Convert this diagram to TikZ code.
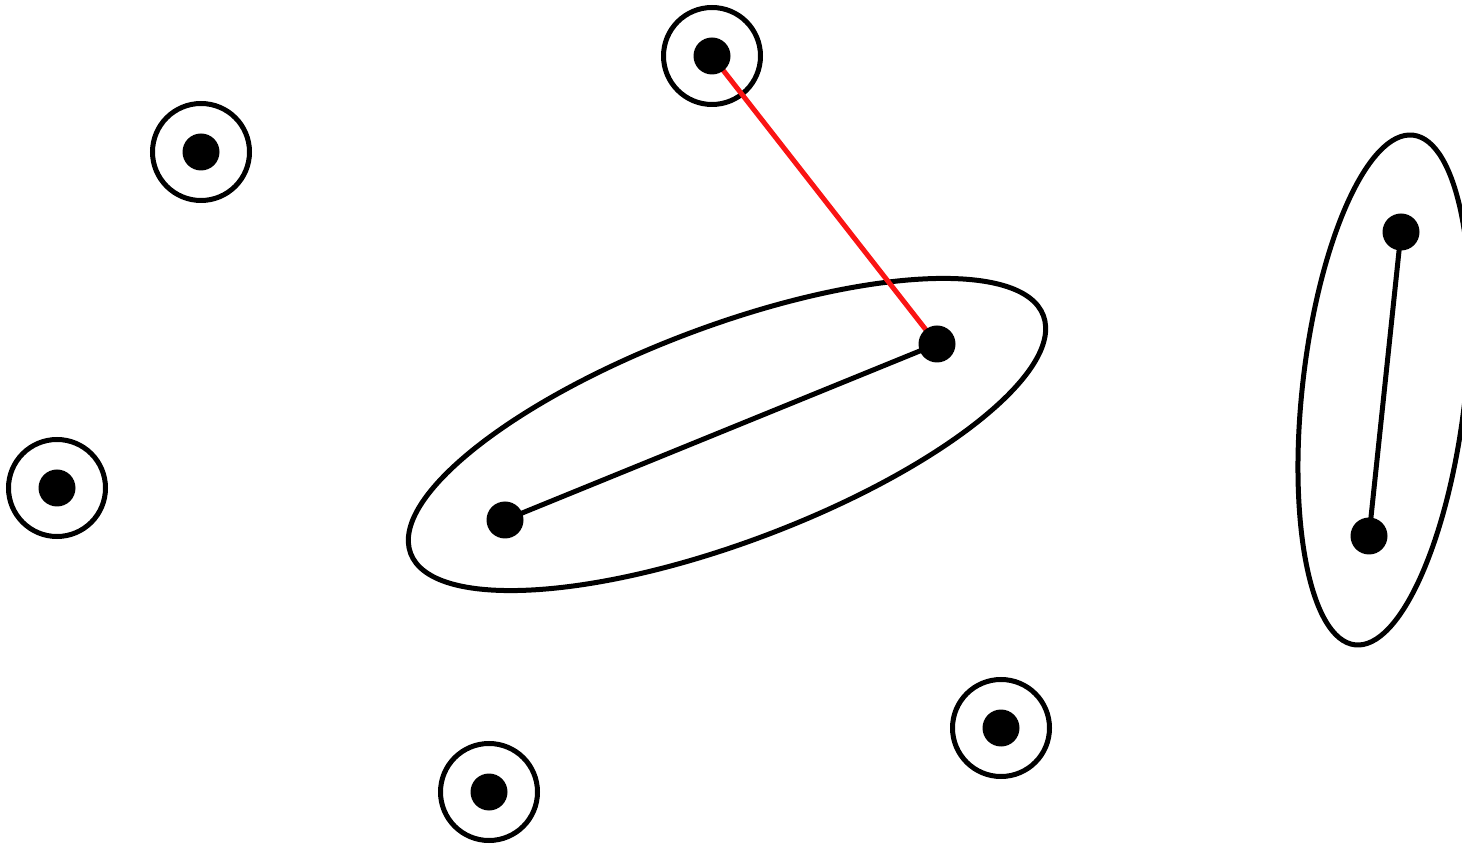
\documentclass[tikz,border=0pt]{standalone}
\begin{document}
\begin{tikzpicture}[x=1pt,y=1pt,
  dotnode/.style={circle,fill=black,inner sep=0pt,minimum size=37pt},
  ringnode/.style={circle,draw=black,line width=5pt,inner sep=0pt,minimum size=97pt},
  edge/.style={line width=5pt,black},
  redge/.style={line width=5pt,color={rgb,255:red,250;green,20;blue,20}},
  cluster/.style={draw=black,line width=5pt}]
\useasboundingbox (0,0) rectangle (1462,844);
\clip (0,0) rectangle (1462,844);
% ellipses
\draw[cluster,rotate around={20.6:(727,409.5)}] (727,409.5) ellipse [x radius=338pt, y radius=108pt];
\draw[cluster,rotate around={83.5:(1384,454)}] (1384,454) ellipse [x radius=256.5pt, y radius=81.5pt];
% coordinates
\coordinate (a) at (201,692);
\coordinate (b) at (712,788);
\coordinate (c) at (57,356);
\coordinate (d) at (489,52);
\coordinate (e) at (1001,116);
\coordinate (p1) at (505,324);
\coordinate (p2) at (937,500);
\coordinate (q1) at (1401,612);
\coordinate (q2) at (1369,308);
% rings
\node[ringnode] (ra) at (a) {};
\node[ringnode] (rb) at (b) {};
\node[ringnode] (rc) at (c) {};
\node[ringnode] (rd) at (d) {};
\node[ringnode] (re) at (e) {};
% connectors
\draw[edge] (p1) -- (p2);
\draw[edge] (q1) -- (q2);
\draw[redge] (b) -- (p2);
% dots
\node[dotnode] (na) at (a) {};
\node[dotnode] (nb) at (b) {};
\node[dotnode] (nc) at (c) {};
\node[dotnode] (nd) at (d) {};
\node[dotnode] (ne) at (e) {};
\node[dotnode] (np1) at (p1) {};
\node[dotnode] (np2) at (p2) {};
\node[dotnode] (nq1) at (q1) {};
\node[dotnode] (nq2) at (q2) {};
\end{tikzpicture}
\end{document}
